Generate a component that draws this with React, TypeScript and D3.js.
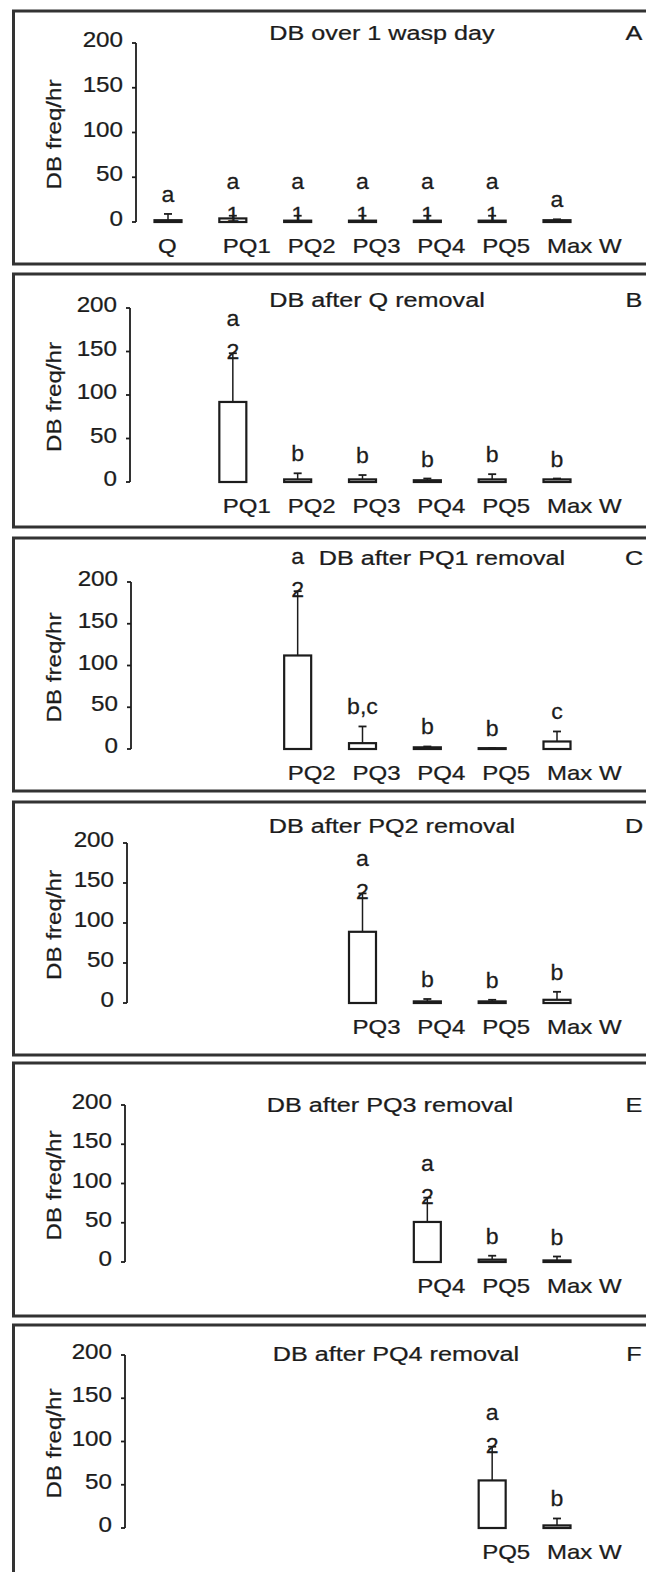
import React from 'react'
import * as d3 from 'd3'

// categories shared by all six panels
const categories = ['Q', 'PQ1', 'PQ2', 'PQ3', 'PQ4', 'PQ5', 'Max W']
const titles = [
  'DB over 1 wasp day',
  'DB after Q removal',
  'DB after PQ1 removal',
  'DB after PQ2 removal',
  'DB after PQ3 removal',
  'DB after PQ4 removal'
]
const panelTags = ['A', 'B', 'C', 'D', 'E', 'F']
const yTicks = [0, 50, 100, 150, 200]
const yLabel = 'DB freq/hr'

// mean DB freq/hr, top of the error bar, significance letter, n marker
const meansA = [2, 4, 1.5, 1.5, 1.5, 1.5, 2]
const errsA = [9, 7, 7, 7, 7, 7, 3]
const lettersA = ['a', 'a', 'a', 'a', 'a', 'a', 'a']
const marksA = ['', '1', '1', '1', '1', '1', '']

const meansB = [null, 92, 3, 3, 2, 3, 3]
const errsB = [null, 148, 10, 8, 4, 9, 4]
const lettersB = [null, 'a', 'b', 'b', 'b', 'b', 'b']
const marksB = [null, '2', '', '', '', '', '']

const meansC = [null, null, 112, 7, 2, 1, 9]
const errsC = [null, null, 189, 27, 3, 1, 21]
const lettersC = [null, null, 'a', 'b,c', 'b', 'b', 'c']
const marksC = [null, null, '2', '', '', '', '']

const meansD = [null, null, null, 89, 2, 2, 4]
const errsD = [null, null, null, 137, 5, 4, 14]
const lettersD = [null, null, null, 'a', 'b', 'b', 'b']
const marksD = [null, null, null, '2', '', '', '']

const meansE = [null, null, null, null, 51, 3, 2]
const errsE = [null, null, null, null, 82, 8, 7]
const lettersE = [null, null, null, null, 'a', 'b', 'b']
const marksE = [null, null, null, null, '2', '', '']

const meansF = [null, null, null, null, null, 55, 3]
const errsF = [null, null, null, null, null, 94, 11]
const lettersF = [null, null, null, null, null, 'a', 'b']
const marksF = [null, null, null, null, null, '2', '']

const panelData = [
  { means: meansA, errs: errsA, letters: lettersA, marks: marksA },
  { means: meansB, errs: errsB, letters: lettersB, marks: marksB },
  { means: meansC, errs: errsC, letters: lettersC, marks: marksC },
  { means: meansD, errs: errsD, letters: lettersD, marks: marksD },
  { means: meansE, errs: errsE, letters: lettersE, marks: marksE },
  { means: meansF, errs: errsF, letters: lettersF, marks: marksF }
]

// layout of each scanned panel (pixels)
const layout = [
  { top: 11, y200: 32, y0: 211, titleY: 29, axisX: 136, titleX: 382 },
  { top: 274, y200: 34, y0: 208, titleY: 33, axisX: 130, titleX: 377 },
  { top: 538, y200: 44, y0: 211, titleY: 27, axisX: 131, titleX: 442 },
  { top: 802, y200: 41, y0: 201, titleY: 31, axisX: 127, titleX: 392 },
  { top: 1063, y200: 42, y0: 199, titleY: 49, axisX: 125, titleX: 390 },
  { top: 1325, y200: 30, y0: 203, titleY: 36, axisX: 125, titleX: 396 }
]

const width = 646
const height = 1572
const ink = '#1c1c1c'
const font = '"Liberation Sans", Arial, sans-serif'

const x = d3.scalePoint().domain(categories).range([168, 557])
const barW = 27

function Txt({ x, y, size = 20, sx = 1.2, anchor = 'middle', rotate = false, children }) {
  const t = `translate(${x},${y})${rotate ? ' rotate(-90)' : ''} scale(${sx},1)`
  return (
    <text
      transform={t}
      textAnchor={anchor}
      fontSize={size}
      fontFamily={font}
      fill={ink}
      stroke={ink}
      strokeWidth={0.25}
    >
      {children}
    </text>
  )
}

function Panel({ i }) {
  const L = layout[i]
  const d = panelData[i]
  const y = d3.scaleLinear().domain([0, 200]).range([L.y0, L.y200])

  return (
    <g transform={`translate(0,${L.top})`}>
      <rect
        x={13.5}
        y={0}
        width={700}
        height={253}
        fill="none"
        stroke="#333"
        strokeWidth={3}
      />
      <Txt x={L.titleX} y={L.titleY} size={21}>{titles[i]}</Txt>
      <Txt x={634} y={L.titleY} size={21}>{panelTags[i]}</Txt>

      {/* y axis */}
      <line x1={L.axisX} x2={L.axisX} y1={y(200)} y2={y(0)} stroke={ink} strokeWidth={1.8} />
      {yTicks.map(t => (
        <g key={t}>
          <line x1={L.axisX - 4} x2={L.axisX} y1={y(t)} y2={y(t)} stroke={ink} strokeWidth={1.8} />
          <Txt x={L.axisX - 13} y={y(t) + 4} size={22} sx={1.1} anchor="end">{t}</Txt>
        </g>
      ))}
      <Txt x={61} y={(y(0) + y(200)) / 2 + 2} size={21} sx={1.15} rotate>{yLabel}</Txt>

      {/* bars */}
      {categories.map((c, j) => {
        const m = d.means[j]
        if (m == null) return null
        const cx = x(c)
        const top = y(m)
        const et = y(d.errs[j])
        const mark = d.marks[j]
        return (
          <g key={c}>
            <line x1={cx} x2={cx} y1={top} y2={et} stroke={ink} strokeWidth={1.5} />
            <line x1={cx - 4} x2={cx + 4} y1={et} y2={et} stroke={ink} strokeWidth={1.8} />
            <rect
              x={cx - barW / 2}
              y={top}
              width={barW}
              height={y(0) - top}
              fill="#fff"
              stroke={ink}
              strokeWidth={2.2}
            />
            {mark && <Txt x={cx} y={et + 6} size={22} sx={1.05}>{mark}</Txt>}
            <Txt x={cx} y={et - (mark ? 27 : 12)} size={22} sx={1.05}>{d.letters[j]}</Txt>
            <Txt x={cx - 10} y={y(0) + 31} anchor="start">{c}</Txt>
          </g>
        )
      })}
    </g>
  )
}

export default function App() {
  return (
    <svg
      width={width}
      height={height}
      style={{ position: 'absolute', left: 0, top: 0, background: '#fff' }}
    >
      <rect width={width} height={height} fill="#fff" />
      {titles.map((t, i) => (
        <Panel key={t} i={i} />
      ))}
    </svg>
  )
}
